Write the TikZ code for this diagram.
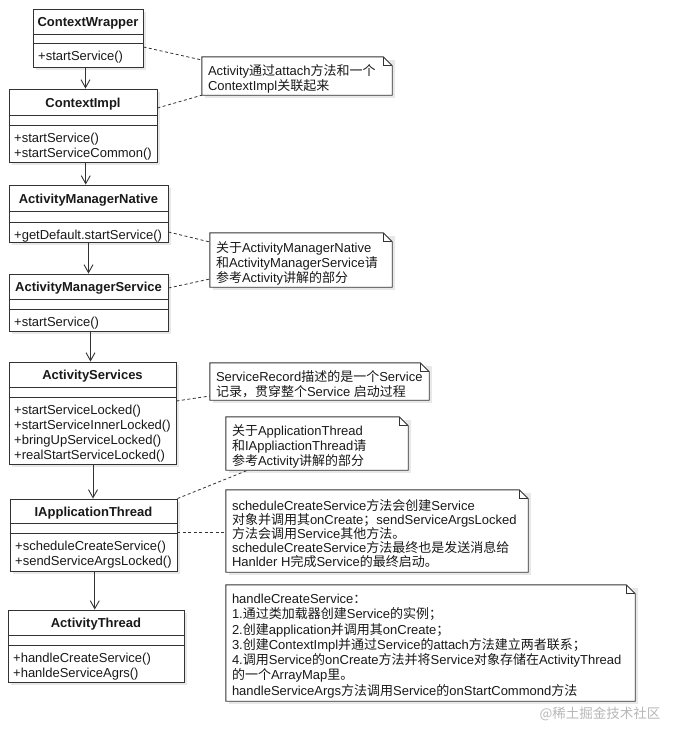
\documentclass[tikz,border=0pt]{standalone}
\usepackage{fontspec}
\setmainfont{Liberation Sans}
\newfontfamily\cjk{Noto Sans CJK SC}
\newcommand\zh[1]{{\cjk #1}}
\usetikzlibrary{arrows.meta,calc,fit}

\tikzset{
  lin/.style={draw=black!80, line width=0.9pt},
  classbox/.style={lin, fill=white, inner sep=0pt},
  shadefill/.style={fill=black!9},
  titletxt/.style={font=\fontsize{13}{15}\selectfont\bfseries, inner sep=0pt, text=black!90, text height=9.5pt, text depth=2.5pt},
  methtxt/.style={font=\fontsize{13}{15.2}\selectfont, inner sep=0pt, align=left, anchor=north west, text=black!90},
  notetxt/.style={font=\fontsize{13}{#1}\selectfont, inner sep=0pt, align=left, anchor=west, text=black!90},
  dep/.style={lin, -{Straight Barb[length=8pt,width=9pt]}},
  dashl/.style={draw=black!80, line width=0.8pt, dash pattern=on 3pt off 2.5pt},
}

% name, left, top, right, bottom, sep1, sep2, title, methods
\newcommand\umlclass[9]{%
  \fill[shadefill] (#2+2.5,#3+2.5) rectangle (#4+2.5,#5+2.5);
  \node[classbox, fit={(#2,#3) (#4,#5)}] (#1) {};
  \draw[lin] (#1.west |- 0,#6) -- (#1.east |- 0,#6);
  \draw[lin] (#1.west |- 0,#7) -- (#1.east |- 0,#7);
  \node[titletxt] (#1-title) at ({(#2+#4)/2},{(#3+#6)/2+1.5}) {#8};
  \node[methtxt] (#1-ops) at (#2+5,#7+7.5) {#9};
}

% [line skip] name, left, top, right, bottom, text
\newcommand\umlnote[7][15]{%
  \fill[shadefill] (#3+2.5,#4+2.5) rectangle (#5+2.5,#6+2.5);
  \node[inner sep=0pt, fit={(#3,#4) (#5,#6)}] (#2) {};
  \draw[lin, fill=white] (#2.north west) -- ([xshift=-9pt]#2.north east) -- ([yshift=-9pt]#2.north east) -- (#2.south east) -- (#2.south west) -- cycle;
  \draw[lin] ([xshift=-9pt]#2.north east) -- ([xshift=-9pt,yshift=-9pt]#2.north east) -- ([yshift=-9pt]#2.north east);
  \node[notetxt=#1] (#2-text) at ([xshift=6pt,yshift=-3pt]#2.west) {#7};
}

\begin{document}
\begin{tikzpicture}[x=1pt, y=-1pt]
\fill[white] (0,0) rectangle (676,742);
\useasboundingbox (0,0) rectangle (676,742);

\umlclass{cw}{33}{9}{143}{67}{34}{43}{ContextWrapper}{+startService()}
\umlclass{ci}{9}{89}{157}{162}{115}{125}{ContextImpl}{+startService()\\+startServiceCommon()}
\umlclass{amn}{9}{185}{168}{242}{211}{222}{ActivityManagerNative}{+getDefault.startService()}
\umlclass{ams}{9}{274}{168}{331}{299}{309}{ActivityManagerService}{+startService()}
\umlclass{as}{9}{362}{176}{464}{387}{397}{ActivityServices}{+startServiceLocked()\\+startServiceInnerLocked()\\+bringUpServiceLocked()\\+realStartServiceLocked()}
\umlclass{iat}{10}{499}{177}{571}{523}{533}{IApplicationThread}{+scheduleCreateService()\\+sendServiceArgsLocked()}
\umlclass{at}{8}{610}{184}{682}{635}{645}{ActivityThread}{+handleCreateService()\\+hanldeServiceAgrs()}

\foreach \a/\b/\m in {cw/ci/m1, ci/amn/m2, amn/ams/m3, ams/as/m4, as/iat/m5, iat/at/m6} {
  \coordinate (\m) at ($(\a.south)!0.5!(\b.north)$);
  \draw[dep] (\m |- \a.south) -- (\m |- \b.north);
}

\umlnote{n1}{202}{57}{392}{95}{Activity\zh{通过}attach\zh{方法和一个}\\ContextImpl\zh{关联起来}}
\umlnote{n2}{210}{233}{392}{287}{\zh{关于}ActivityManagerNative\\\zh{和}ActivityManagerService\zh{请}\\\zh{参考}Activity\zh{讲解的部分}}
\umlnote{n3}{210}{363}{429}{400}{ServiceRecord\zh{描述的是一个}Service\\\zh{记录，贯穿整个}Service \zh{启动过程}}
\umlnote{n4}{226}{417}{408}{470}{\zh{关于}ApplicationThread\\\zh{和}IAppliactionThread\zh{请}\\\zh{参考}Activity\zh{讲解的部分}}
\umlnote[14]{n5}{226}{490}{528}{572}{scheduleCreateService\zh{方法会创建}Service\\\zh{对象并调用其}onCreate\zh{；}sendServiceArgsLocked\\\zh{方法会调用}Service\zh{其他方法。}\\scheduleCreateService\zh{方法最终也是发送消息给}\\Hanlder H\zh{完成}Service\zh{的最终启动。}}
\umlnote[15.3]{n6}{226}{585}{635}{701}{handleCreateService\zh{：}\\1.\zh{通过类加载器创建}Service\zh{的实例；}\\2.\zh{创建}application\zh{并调用其}onCreate\zh{；}\\3.\zh{创建}ContextImpl\zh{并通过}Service\zh{的}attach\zh{方法建立两者联系；}\\4.\zh{调用}Service\zh{的}onCreate\zh{方法并将}Service\zh{对象存储在}ActivityThread\\\zh{的一个}ArrayMap\zh{里。}\\handleServiceArgs\zh{方法调用}Service\zh{的}onStartCommond\zh{方法}}

\draw[dashl] (cw.east |- 0,47) -- (n1.west |- 0,60);
\draw[dashl] (ci.east |- 0,108) -- (n1.south west);
\draw[dashl] (amn.east |- 0,232) -- (n2.west |- 0,242);
\draw[dashl] (ams.east |- 0,288) -- (n2.west |- 0,279);
\draw[dashl] (as.east |- 0,401) -- (n3.west |- 0,396);
\draw[dashl] (iat.north east) -- ([xshift=22pt]n4.south west);
\draw[dashl] (iat.east |- 0,532) -- (n5.west |- 0,532);

\node[font=\cjk\fontsize{13.5}{15}\selectfont, text=black!28, inner sep=0pt] (wm) at (600,714) {@稀土掘金技术社区};
\end{tikzpicture}
\end{document}
